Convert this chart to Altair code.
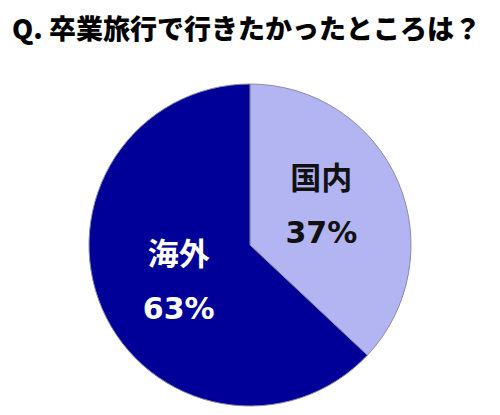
import altair as alt
import pandas as pd

categories = ["国内", "海外"]
values = [37, 63]
order = [1, 2]

df = pd.DataFrame({
    "category": categories,
    "value": values,
    "order": order,
})
df["pct"] = df["value"].astype(str) + "%"

FONT = "Noto Sans CJK JP"

base = alt.Chart(df).encode(
    theta=alt.Theta("value:Q", stack=True),
    order=alt.Order("order:Q"),
)

pie = base.mark_arc(radius=161, stroke="#8a8aa8", strokeWidth=1).encode(
    color=alt.Color(
        "category:N",
        scale=alt.Scale(domain=categories, range=["#b3b5f3", "#000099"]),
        legend=None,
    )
)

txt_color = alt.condition(alt.datum.category == "海外", alt.value("white"), alt.value("#111111"))

name_text = base.mark_text(
    radius=81, thetaOffset=-0.085, dy=-27, fontSize=31, fontWeight="bold", font=FONT,
    align="center", baseline="middle",
).encode(text="category:N", color=txt_color)

pct_text = base.mark_text(
    radius=81, thetaOffset=-0.085, dy=27, fontSize=30, fontWeight="bold", font="DejaVu Sans",
    align="center", baseline="middle",
).encode(text="pct:N", color=txt_color)

chart = (pie + name_text + pct_text).properties(
    width=484,
    height=336,
    padding={"left": 0, "top": 9, "right": 0, "bottom": 0},
    title=alt.TitleParams(
        "Q. 卒業旅行で行きたかったところは？",
        anchor="start", fontSize=27, fontWeight=900, font=FONT,
        color="#000000", offset=32, dx=4,
    ),
).configure_view(stroke=None)

chart.save("out.html", embed_options={"renderer": "svg", "actions": False})
